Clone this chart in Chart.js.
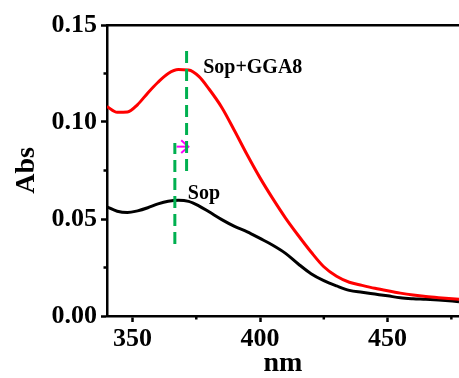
<!DOCTYPE html>
<html>
<head>
<meta charset="utf-8">
<script src="https://cdn.jsdelivr.net/npm/chart.js@4"></script>
<style>
  html, body { margin: 0; padding: 0; background: #fff; overflow: hidden; }
  #chart { display: block; }
</style>
</head>
<body>
<canvas id="chart" width="459" height="378"></canvas>
<script>
// UV-vis spectra, wavelength (nm) vs absorbance
const wavelengths = [340, 344, 348, 352, 356, 360, 364, 368, 372, 376, 380, 385, 390, 395, 400,
                     405, 410, 415, 420, 425, 430, 435, 440, 445, 450, 455, 460, 465, 470, 478];
const absSopGga8 = [0.1080, 0.1050, 0.1052, 0.1090, 0.1150, 0.1205, 0.1250, 0.1270, 0.1268, 0.1235,
                    0.1170, 0.1075, 0.0955, 0.0830, 0.0712, 0.0605, 0.0505, 0.0415, 0.0330, 0.0254,
                    0.0205, 0.0174, 0.0158, 0.0143, 0.0130, 0.0118, 0.0108, 0.0100, 0.0094, 0.0086];
const absSop = [0.0563, 0.0540, 0.0533, 0.0542, 0.0558, 0.0578, 0.0592, 0.0597, 0.0591, 0.0568,
                0.0537, 0.0497, 0.0462, 0.0434, 0.0400, 0.0365, 0.0323, 0.0268, 0.0218, 0.0182,
                0.0155, 0.0132, 0.0122, 0.0113, 0.0104, 0.0094, 0.0089, 0.0086, 0.0082, 0.0074];

// peak markers (dashed green) and shift arrow
const peakNm = [371.2, 366.6];
const peakTop = [0.1387, 0.0892];
const peakBottom = [0.0747, 0.0371];
const shiftFrom = 367.3, shiftTo = 371.9, shiftAbs = 0.0873;

// axes
const xMajor = [350, 400, 450];
const xMinor = [375, 425, 475];
const yMajor = [0, 0.05, 0.10, 0.15];
const yMinor = [0.025, 0.075, 0.125];

const serif = '"Liberation Serif", "Times New Roman", serif';
const curveLabels = [
  { text: 'Sop+GGA8', x: 377.7, y: 0.1253 },
  { text: 'Sop', x: 371.7, y: 0.0603 }
];

const toPoints = vals => wavelengths.map((w, i) => ({ x: w, y: vals[i] }));

const peakLines = peakNm.map((w, i) => ({
  data: [{ x: w, y: peakBottom[i] }, { x: w, y: peakTop[i] }],
  borderColor: '#00b050',
  borderWidth: 3,
  borderDash: [12, 6],
  pointRadius: 0
}));

const minorTicks = {
  id: 'minorTicks',
  afterDraw(chart) {
    const { ctx, chartArea, scales: { x, y } } = chart;
    ctx.save();
    ctx.strokeStyle = '#000';
    ctx.lineWidth = 2.5;
    ctx.beginPath();
    xMinor.forEach(v => {
      const px = x.getPixelForValue(v);
      ctx.moveTo(px, chartArea.bottom);
      ctx.lineTo(px, chartArea.bottom + 3.5);
    });
    yMinor.forEach(v => {
      const py = y.getPixelForValue(v);
      ctx.moveTo(chartArea.left, py);
      ctx.lineTo(chartArea.left - 3.5, py);
    });
    ctx.stroke();
    ctx.restore();
  }
};

const textLabels = {
  id: 'textLabels',
  afterDatasetsDraw(chart) {
    const { ctx, scales: { x, y } } = chart;
    ctx.save();
    ctx.font = 'bold 20px ' + serif;
    ctx.fillStyle = '#000';
    ctx.textBaseline = 'alphabetic';
    curveLabels.forEach(l => ctx.fillText(l.text, x.getPixelForValue(l.x), y.getPixelForValue(l.y)));
    ctx.restore();
  }
};

new Chart(document.getElementById('chart'), {
  type: 'line',
  data: {
    datasets: [
      ...peakLines,
      {
        data: [{ x: shiftFrom, y: shiftAbs }, { x: shiftTo, y: shiftAbs }],
        borderColor: '#ff00ff', borderWidth: 2, pointRadius: 0
      },
      {
        data: [{ x: shiftTo - 2.8, y: shiftAbs + 0.0033 }, { x: shiftTo, y: shiftAbs },
               { x: shiftTo - 2.8, y: shiftAbs - 0.0033 }],
        borderColor: '#ff00ff', borderWidth: 2, pointRadius: 0
      },
      {
        label: 'Sop+GGA8',
        data: toPoints(absSopGga8),
        borderColor: '#ff0000',
        borderWidth: 3,
        pointRadius: 0,
        cubicInterpolationMode: 'monotone'
      },
      {
        label: 'Sop',
        data: toPoints(absSop),
        borderColor: '#000000',
        borderWidth: 3,
        pointRadius: 0,
        cubicInterpolationMode: 'monotone'
      }
    ]
  },
  options: {
    responsive: false,
    animation: false,
    layout: { padding: { top: 25, right: 0, bottom: 0, left: 0 } },
    plugins: { legend: { display: false }, tooltip: { enabled: false } },
    scales: {
      x: {
        type: 'linear',
        position: 'bottom',
        min: 340,
        max: 478,
        afterBuildTicks: s => { s.ticks = xMajor.map(v => ({ value: v })); },
        afterFit: s => { s.height = 62; },
        ticks: {
          color: '#000',
          padding: 2,
          maxRotation: 0,
          font: { family: serif, size: 26, weight: 'bold' }
        },
        grid: { drawOnChartArea: false, tickLength: 6, tickWidth: 2.5, tickColor: '#000' },
        border: { display: true, color: '#000', width: 2.5 },
        title: {
          display: true,
          text: 'nm',
          color: '#000',
          padding: 0,
          font: { family: serif, size: 28, weight: 'bold', lineHeight: 1 }
        }
      },
      xTop: {
        type: 'linear',
        position: 'top',
        min: 340,
        max: 478,
        afterFit: s => { s.height = 0; },
        ticks: { display: false },
        grid: { drawOnChartArea: false, drawTicks: false },
        border: { display: true, color: '#000', width: 2.5 }
      },
      y: {
        min: 0,
        max: 0.15,
        afterBuildTicks: s => { s.ticks = yMajor.map(v => ({ value: v })); },
        afterFit: s => { s.width = 107; },
        ticks: {
          color: '#000',
          padding: 4,
          callback: v => v.toFixed(2),
          font: { family: serif, size: 26, weight: 'bold' }
        },
        grid: { drawOnChartArea: false, tickLength: 6, tickWidth: 2.5, tickColor: '#000' },
        border: { display: true, color: '#000', width: 2.5 },
        title: {
          display: true,
          text: 'Abs',
          color: '#000',
          padding: { top: 10, bottom: 0 },
          font: { family: serif, size: 28, weight: 'bold', lineHeight: 1.2 }
        }
      }
    }
  },
  plugins: [minorTicks, textLabels]
});
</script>
</body>
</html>
